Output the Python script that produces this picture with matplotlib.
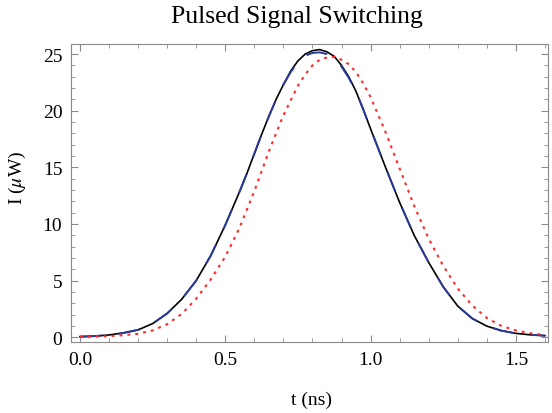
import matplotlib
matplotlib.use("Agg")
import matplotlib.pyplot as plt
from matplotlib.ticker import MultipleLocator

# values (t in ns, I in microwatt)
t_black = [0.0, 0.05, 0.1, 0.15, 0.2, 0.25, 0.3, 0.35, 0.4, 0.45, 0.5, 0.55, 0.575, 0.6,
           0.625, 0.65, 0.675, 0.7, 0.725, 0.75, 0.775, 0.8, 0.825, 0.85, 0.875, 0.9,
           0.925, 0.95, 0.975, 1.0, 1.05, 1.1, 1.15, 1.2, 1.25, 1.3, 1.35, 1.4, 1.45,
           1.5, 1.55, 1.6]
i_black = [0.05, 0.1, 0.2, 0.38, 0.65, 1.2, 2.1, 3.35, 5.0, 7.2, 9.9, 12.9, 14.5, 16.2,
           17.9, 19.5, 21.0, 22.3, 23.5, 24.4, 25.0, 25.3, 25.4, 25.2, 24.8, 24.0,
           23.0, 21.7, 20.1, 18.4, 15.1, 11.9, 9.0, 6.6, 4.45, 2.75, 1.65, 0.98, 0.58,
           0.34, 0.21, 0.14]

t_blue = t_black
i_blue = [0.05, 0.1, 0.2, 0.38, 0.65, 1.2, 2.1, 3.35, 5.0, 7.2, 9.9, 12.9, 14.5, 16.2,
          17.9, 19.5, 21.0, 22.3, 23.4, 24.3, 24.85, 25.1, 25.15, 25.0, 24.6, 23.9,
          22.9, 21.7, 20.1, 18.4, 15.1, 11.9, 9.0, 6.6, 4.45, 2.75, 1.65, 0.98, 0.58,
          0.34, 0.21, 0.14]

t_red = [0.0, 0.05, 0.1, 0.15, 0.2, 0.25, 0.3, 0.35, 0.4, 0.45, 0.5, 0.55, 0.6, 0.65,
         0.7, 0.75, 0.775, 0.8, 0.825, 0.85, 0.875, 0.9, 0.925, 0.95, 0.975, 1.0, 1.05,
         1.1, 1.15, 1.2, 1.25, 1.3, 1.35, 1.4, 1.45, 1.5, 1.55, 1.6]
i_red = [0.03, 0.05, 0.1, 0.18, 0.3, 0.6, 1.15, 2.05, 3.4, 5.1, 7.1, 9.7, 12.9, 16.4,
         19.6, 22.2, 23.2, 24.0, 24.5, 24.7, 24.75, 24.5, 24.1, 23.4, 22.4, 21.2, 18.2,
         14.9, 11.6, 8.7, 6.3, 4.3, 2.8, 1.7, 1.0, 0.6, 0.35, 0.2]

plt.rcParams["font.family"] = ["Liberation Serif", "DejaVu Serif"]
plt.rcParams["mathtext.fontset"] = "stix"

fig = plt.figure(figsize=(5.52, 4.14), dpi=100)
ax = fig.add_axes([0.128, 0.171, 0.865, 0.72])

ax.plot(t_black, i_black, color="black", lw=1.2, solid_joinstyle="round")
ax.plot(t_blue, i_blue, color="#2a3a9a", lw=1.4, dashes=(11, 9), dash_joinstyle="round")
ax.plot(t_red, i_red, color="#ff2a2a", lw=1.5, dashes=(1.4, 2.4))

ax.set_xlim(-0.032, 1.611)
ax.set_ylim(-0.44, 25.88)

ax.xaxis.set_major_locator(MultipleLocator(0.5))
ax.xaxis.set_minor_locator(MultipleLocator(0.1))
ax.yaxis.set_major_locator(MultipleLocator(5))
ax.yaxis.set_minor_locator(MultipleLocator(1))
ax.xaxis.set_major_formatter(plt.FuncFormatter(lambda v, p: "%.1f" % v))

gray = "#8a8a8a"
for s in ax.spines.values():
    s.set_color(gray)
    s.set_linewidth(0.8)
ax.tick_params(which="both", direction="in", top=True, right=True, color=gray,
               labelsize=14, labelcolor="black")
ax.tick_params(which="major", length=5, width=0.8)
ax.tick_params(which="minor", length=2.8, width=0.6)
ax.tick_params(axis="x", pad=6)
ax.tick_params(axis="y", pad=6)

fig.text(0.5375, 0.958, "Pulsed Signal Switching", ha="center", va="center", fontsize=18.5)
fig.text(0.565, 0.034, "t (ns)", ha="center", va="center", fontsize=14)
fig.text(0.031, 0.57, r"I ($\mu$W)", ha="center", va="center", rotation=90, fontsize=14)

fig.savefig("out.png", dpi=100)
